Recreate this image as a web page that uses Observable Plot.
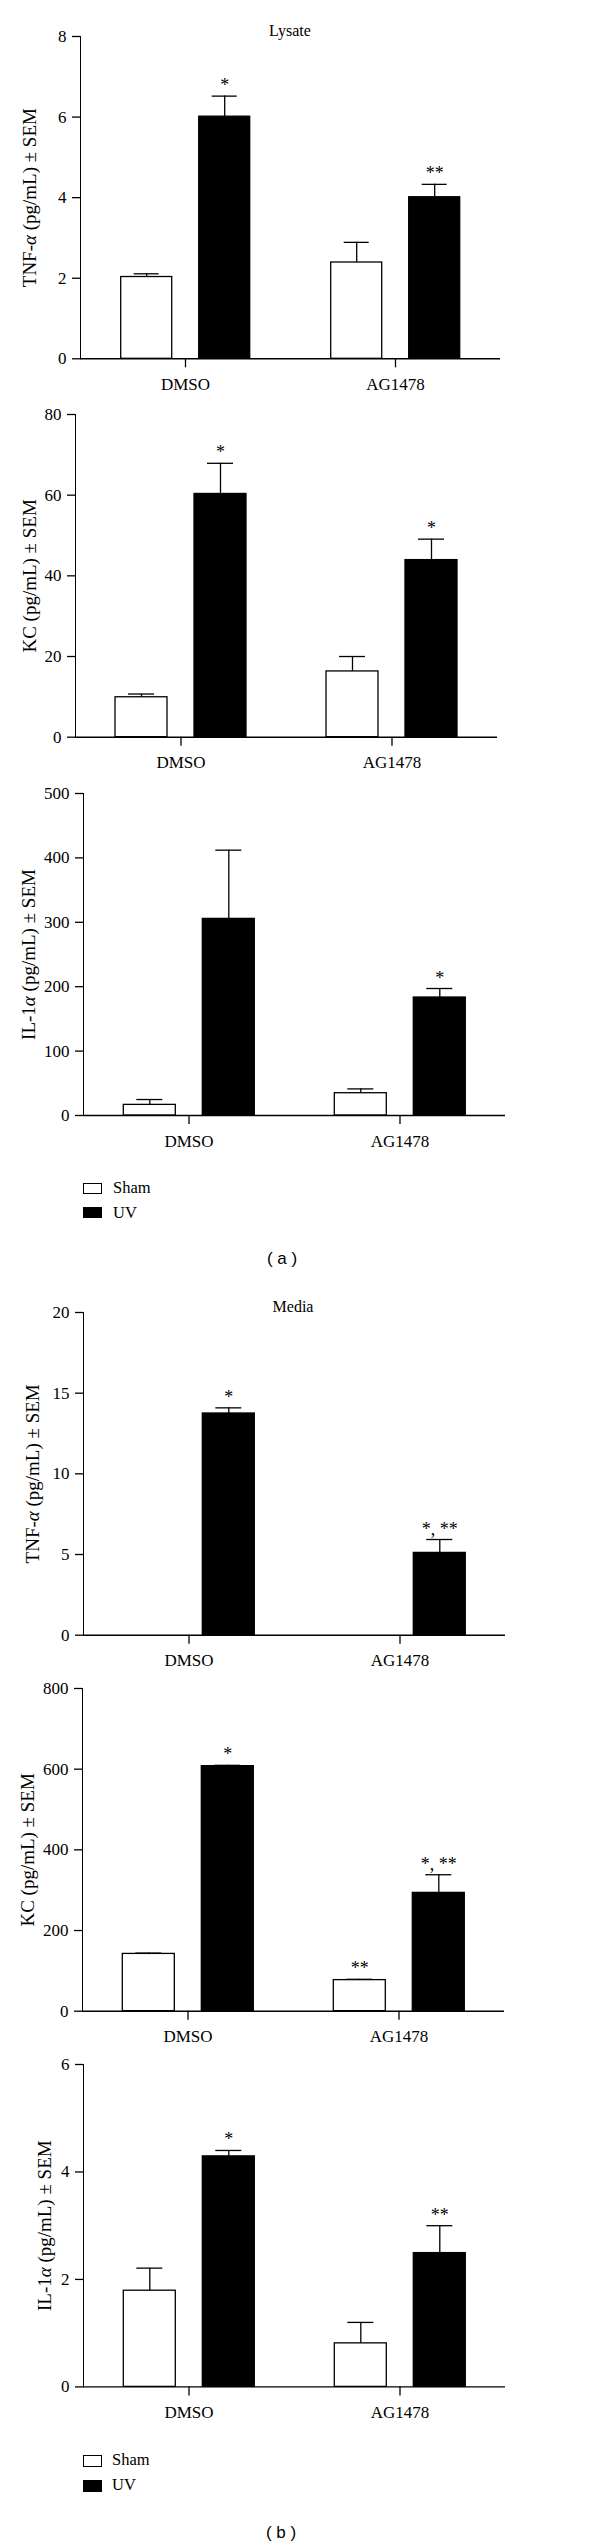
<!DOCTYPE html>
<html>
<head>
<meta charset="utf-8">
<script src="https://cdn.jsdelivr.net/npm/d3@7"></script>
<script src="https://cdn.jsdelivr.net/npm/@observablehq/plot@0.6"></script>
<style>
  body { margin: 0; background: #fff; }
  #page { position: relative; width: 600px; height: 2548px; overflow: hidden; background: #fff;
          font-family: "Liberation Serif", "Times New Roman", serif; color: #000; }
  .abs { position: absolute; }
  .title { font-size: 16px; line-height: 16px; white-space: nowrap; transform: translateX(-50%); }
  .sw { position: absolute; box-sizing: border-box; border: 1.4px solid #000; }
  .lg { position: absolute; font-size: 16.5px; line-height: 20px; white-space: nowrap; }
  .cap { position: absolute; font-family: "Liberation Sans", Arial, sans-serif; font-size: 17px; line-height: 22px;
         white-space: pre; transform: translateX(-50%); }
  #page svg { position: absolute; left: 0; overflow: visible; }
  #page svg [aria-label*="axis"] path, #page svg [aria-label*="axis"] line { stroke-width: 1.3px; }
</style>
</head>
<body>
<div id="page"></div>
<script>
// ---------- data ----------
const groups = ["DMSO", "AG1478"];
const treatments = ["Sham", "UV"];

// (a) Lysate
const lysTnfSham = [2.03, 2.39], lysTnfShamSem = [0.08, 0.50];
const lysTnfUV = [6.01, 4.01], lysTnfUVSem = [0.51, 0.32];
const lysTnfShamStars = ["", ""], lysTnfUVStars = ["*", "**"];
const lysTnfTicks = [0, 2, 4, 6, 8];

const lysKcSham = [9.9, 16.3], lysKcShamSem = [0.8, 3.7];
const lysKcUV = [60.3, 43.9], lysKcUVSem = [7.6, 5.2];
const lysKcShamStars = ["", ""], lysKcUVStars = ["*", "*"];
const lysKcTicks = [0, 20, 40, 60, 80];

const lysIlSham = [16.5, 34.6], lysIlShamSem = [8.3, 6.7];
const lysIlUV = [305.3, 183.2], lysIlUVSem = [106.7, 14.0];
const lysIlShamStars = ["", ""], lysIlUVStars = ["", "*"];
const lysIlTicks = [0, 100, 200, 300, 400, 500];

// (b) Media
const medTnfSham = [0, 0], medTnfShamSem = [0, 0];
const medTnfUV = [13.74, 5.10], medTnfUVSem = [0.35, 0.83];
const medTnfShamStars = ["", ""], medTnfUVStars = ["*", "*, **"];
const medTnfTicks = [0, 5, 10, 15, 20];

const medKcSham = [142, 77], medKcShamSem = [2, 2];
const medKcUV = [607.5, 293.3], medKcUVSem = [2, 45];
const medKcShamStars = ["", "**"], medKcUVStars = ["*", "*, **"];
const medKcTicks = [0, 200, 400, 600, 800];

const medIlSham = [1.79, 0.81], medIlShamSem = [0.42, 0.39];
const medIlUV = [4.29, 2.49], medIlUVSem = [0.11, 0.51];
const medIlShamStars = ["", ""], medIlUVStars = ["*", "**"];
const medIlTicks = [0, 2, 4, 6];

function makeRows(sham, shamSem, uv, uvSem, shamStars, uvStars) {
  const rows = [];
  groups.forEach((g, i) => {
    rows.push({group: g, treatment: "Sham", value: sham[i], sem: shamSem[i], star: shamStars[i]});
    rows.push({group: g, treatment: "UV", value: uv[i], sem: uvSem[i], star: uvStars[i]});
  });
  return rows;
}

const panels = [
  {label: "TNF-α (pg/mL) ± SEM", ticks: lysTnfTicks,
   rows: makeRows(lysTnfSham, lysTnfShamSem, lysTnfUV, lysTnfUVSem, lysTnfShamStars, lysTnfUVStars),
   topY: 36, zeroY: 358.3, axisX: 79.3, axisEnd: 500, labelLeft: 21},
  {label: "KC (pg/mL) ± SEM", ticks: lysKcTicks,
   rows: makeRows(lysKcSham, lysKcShamSem, lysKcUV, lysKcUVSem, lysKcShamStars, lysKcUVStars),
   topY: 414, zeroY: 736.7, axisX: 75, axisEnd: 497, labelLeft: 21.5},
  {label: "IL-1α (pg/mL) ± SEM", ticks: lysIlTicks,
   rows: makeRows(lysIlSham, lysIlShamSem, lysIlUV, lysIlUVSem, lysIlShamStars, lysIlUVStars),
   topY: 793.3, zeroY: 1115.3, axisX: 82.7, axisEnd: 505, labelLeft: 21},
  {label: "TNF-α (pg/mL) ± SEM", ticks: medTnfTicks,
   rows: makeRows(medTnfSham, medTnfShamSem, medTnfUV, medTnfUVSem, medTnfShamStars, medTnfUVStars),
   topY: 1312.3, zeroY: 1635, axisX: 82.7, axisEnd: 505, labelLeft: 25},
  {label: "KC (pg/mL) ± SEM", ticks: medKcTicks,
   rows: makeRows(medKcSham, medKcShamSem, medKcUV, medKcUVSem, medKcShamStars, medKcUVStars),
   topY: 1688.3, zeroY: 2011, axisX: 81.7, axisEnd: 505, labelLeft: 20},
  {label: "IL-1α (pg/mL) ± SEM", ticks: medIlTicks,
   rows: makeRows(medIlSham, medIlShamSem, medIlUV, medIlUVSem, medIlShamStars, medIlUVStars),
   topY: 2064.3, zeroY: 2386.7, axisX: 82.7, axisEnd: 505, labelLeft: 37}
];

const page = document.getElementById("page");
const MT = 14, MB = 42;

function styleLabel(svg, label) {
  svg.querySelectorAll("text").forEach(t => {
    if (t.textContent === label) {
      t.style.fontSize = "19px";
      const parts = label.split("α");
      if (parts.length === 2) {
        t.textContent = "";
        const ns = "http://www.w3.org/2000/svg";
        const a = document.createElementNS(ns, "tspan"); a.textContent = parts[0];
        const b = document.createElementNS(ns, "tspan"); b.textContent = "α"; b.setAttribute("font-style", "italic");
        const c = document.createElementNS(ns, "tspan"); c.textContent = parts[1];
        t.append(a, b, c);
      }
    }
  });
}

panels.forEach(p => {
  const plotH = p.zeroY - p.topY;
  const rows = p.rows;
  const top = d => d.value + d.sem;
  const chart = Plot.plot({
    width: 600,
    height: MT + plotH + MB,
    marginTop: MT,
    marginBottom: MB,
    marginLeft: p.axisX,
    marginRight: 600 - p.axisEnd,
    style: {background: "transparent", fontFamily: "'Liberation Serif', 'Times New Roman', serif", fontSize: "17px", color: "black"},
    facet: {data: rows, x: "group"},
    fx: {domain: groups, padding: 0, label: null, axis: "bottom", tickSize: 9, tickPadding: 10},
    x: {domain: treatments, paddingInner: 0.342, paddingOuter: 0.503, axis: null},
    y: {domain: [0, p.ticks[p.ticks.length - 1]], ticks: p.ticks, tickSize: 8, tickPadding: 6, line: true,
        label: p.label, labelAnchor: "center", labelOffset: p.axisX - p.labelLeft, labelArrow: "none",
        tickFormat: d => String(d)},
    color: {domain: treatments, range: ["white", "black"]},
    marks: [
      Plot.barY(rows, {x: "treatment", y: "value", fill: "treatment", stroke: "black", strokeWidth: 1.3,
                       filter: d => d.value > 0}),
      Plot.ruleX(rows, {x: "treatment", y1: "value", y2: top, stroke: "black", strokeWidth: 1.3,
                        filter: d => d.sem > 0}),
      Plot.tickY(rows, {x: "treatment", y: top, stroke: "black", strokeWidth: 1.3, insetLeft: 13, insetRight: 13,
                        filter: d => d.sem > 0}),
      Plot.text(rows, {x: "treatment", y: top, text: "star", filter: d => d.star, lineAnchor: "bottom",
                       dy: -5, fontSize: 18, fill: "black"}),
      Plot.ruleY([0], {stroke: "black", strokeWidth: 1.4})
    ]
  });
  chart.style.top = (p.topY - MT) + "px";
  styleLabel(chart, p.label);
  page.appendChild(chart);
});

// titles, legends, captions
function addDiv(cls, text, css) {
  const d = document.createElement("div");
  d.className = cls;
  d.textContent = text;
  Object.assign(d.style, css);
  page.appendChild(d);
  return d;
}
addDiv("abs title", "Lysate", {left: "290px", top: "23px"});
addDiv("abs title", "Media", {left: "293px", top: "1298.6px"});

const legendRows = [
  {name: "Sham", fill: "#fff"},
  {name: "UV", fill: "#000"}
];
const legendSets = [
  {boxTops: [1182.7, 1206.7], textCenters: [1187.5, 1212.5], boxLeft: 83, textLeft: 113},
  {boxTops: [2455, 2480], textCenters: [2460, 2485], boxLeft: 83, textLeft: 112}
];
legendSets.forEach(s => {
  legendRows.forEach((r, i) => {
    const b = document.createElement("div");
    b.className = "sw";
    Object.assign(b.style, {left: s.boxLeft + "px", top: s.boxTops[i] + "px", width: "19px", height: "11.5px", background: r.fill});
    page.appendChild(b);
    addDiv("lg", r.name, {left: s.textLeft + "px", top: (s.textCenters[i] - 10) + "px"});
  });
});

addDiv("cap", "( a )", {left: "282px", top: (1259 - 11) + "px"});
addDiv("cap", "( b )", {left: "281px", top: (2533 - 11) + "px"});
</script>
</body>
</html>
